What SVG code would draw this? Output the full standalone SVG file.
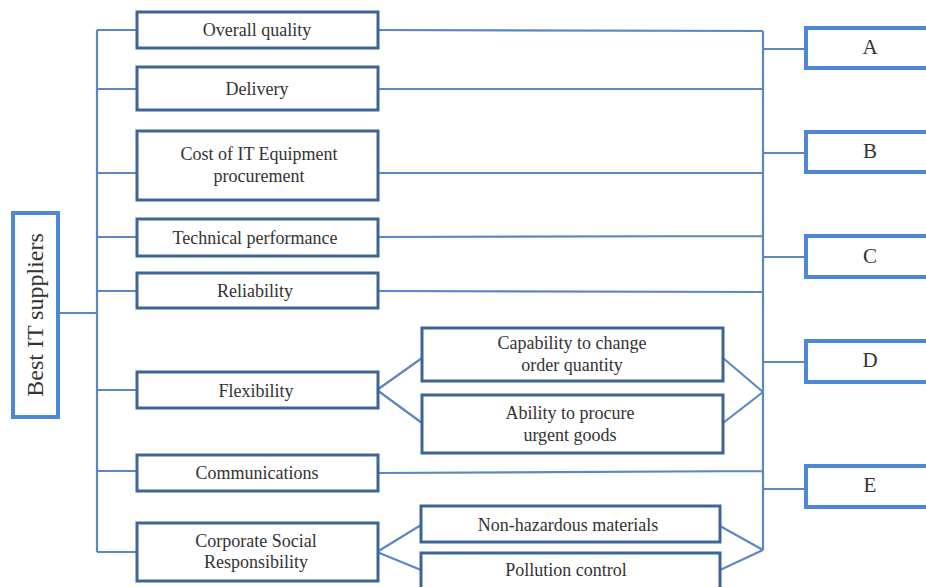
<svg xmlns="http://www.w3.org/2000/svg" width="926" height="587" viewBox="0 0 926 587">
<style>
.bx{fill:#fff;stroke:#3f6596;stroke-width:3}
.rb{fill:#fff;stroke:#4e88d6;stroke-width:4}
.ln{fill:none;stroke:#5b87c2;stroke-width:2.2}
text{font-family:"Liberation Serif","Times New Roman",serif;fill:#333;text-anchor:middle}
.t{font-size:18px}
.L{font-size:21px}
</style>
<rect width="926" height="587" fill="#fff"/>
<g id="connectors">
<path class="ln" d="M97 30V552M58 313H97M97 30H137M97 89H137M97 173H137M97 237H137M97 291H137M97 390H137M97 471H137M97 552H137"/>
<path class="ln" d="M378 30L763 31M378 89H763M378 173H763M378 237L763 236M378 291L763 292M378 473L763 471M763 31V550"/>
<path class="ln" d="M763 49H806M763 153H806M763 257H806M763 362H806M763 489H806"/>
<path class="ln" d="M377 390L422 358M377 390L422 423M723 358L763 392M723 423L763 392"/>
<path class="ln" d="M377 552L421 525M377 552L421 570M720 526L763 550M720 570L763 550"/>
</g>
<g id="best"><rect class="rb" x="13" y="213" width="45" height="204"/><text class="L" transform="translate(43 315) rotate(-90)" style="font-size:24px">Best IT suppliers</text></g>
<g id="overall"><rect class="bx" x="137" y="12" width="241" height="36"/><text class="t" x="257" y="36">Overall quality</text></g>
<g id="delivery"><rect class="bx" x="137" y="67" width="241" height="43"/><text class="t" x="257" y="95">Delivery</text></g>
<g id="cost"><rect class="bx" x="137" y="131" width="241" height="69"/><text class="t" x="259" y="160">Cost of IT Equipment</text><text class="t" x="259" y="182">procurement</text></g>
<g id="technical"><rect class="bx" x="137" y="219" width="241" height="37"/><text class="t" x="255" y="244">Technical performance</text></g>
<g id="reliability"><rect class="bx" x="137" y="273" width="241" height="35"/><text class="t" x="255" y="297">Reliability</text></g>
<g id="flexibility"><rect class="bx" x="137" y="372" width="241" height="36"/><text class="t" x="256" y="397">Flexibility</text></g>
<g id="communications"><rect class="bx" x="137" y="455" width="241" height="36"/><text class="t" x="257" y="479">Communications</text></g>
<g id="csr"><rect class="bx" x="137" y="523" width="241" height="58"/><text class="t" x="256" y="547">Corporate Social</text><text class="t" x="256" y="568">Responsibility</text></g>
<g id="capability"><rect class="bx" x="422" y="328" width="301" height="53"/><text class="t" x="572" y="349">Capability to change</text><text class="t" x="572" y="371">order quantity</text></g>
<g id="ability"><rect class="bx" x="422" y="395" width="301" height="58"/><text class="t" x="570" y="419">Ability to procure</text><text class="t" x="570" y="441">urgent goods</text></g>
<g id="nonhaz"><rect class="bx" x="421" y="506" width="299" height="36"/><text class="t" x="568" y="531">Non-hazardous materials</text></g>
<g id="pollution"><rect class="bx" x="421" y="553" width="299" height="45"/><text class="t" x="566" y="576">Pollution control</text></g>
<g id="A"><rect class="rb" x="806" y="28" width="140" height="40"/><text class="L" x="870" y="54">A</text></g>
<g id="B"><rect class="rb" x="806" y="132" width="140" height="40"/><text class="L" x="870" y="158">B</text></g>
<g id="C"><rect class="rb" x="806" y="236" width="140" height="41"/><text class="L" x="870" y="263">C</text></g>
<g id="D"><rect class="rb" x="806" y="341" width="140" height="41"/><text class="L" x="870" y="367">D</text></g>
<g id="E"><rect class="rb" x="806" y="466" width="140" height="41"/><text class="L" x="870" y="492">E</text></g>
</svg>
